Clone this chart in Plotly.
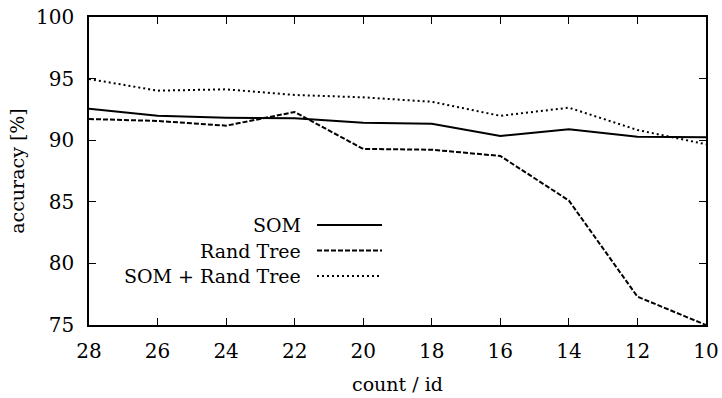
import plotly.graph_objects as go

x_vals = [28, 26, 24, 22, 20, 18, 16, 14, 12, 10]
som = [92.56, 91.99, 91.83, 91.78, 91.42, 91.34, 90.34, 90.89, 90.29, 90.24]
rand_tree = [91.72, 91.56, 91.18, 92.29, 89.29, 89.23, 88.72, 85.1, 77.3, 75.0]
som_rand = [94.97, 94.02, 94.13, 93.67, 93.48, 93.12, 91.98, 92.64, 90.83, 89.67]

series_names = ["SOM", "Rand Tree", "SOM + Rand Tree"]
series_dash = ["solid", "5px,2px", "2px,3px"]
series_data = [som, rand_tree, som_rand]

x_ticks = [28, 26, 24, 22, 20, 18, 16, 14, 12, 10]
y_ticks = [75, 80, 85, 90, 95, 100]

FONT = "DejaVu Serif"
FS = 19

fig = go.Figure()
for name, dash, ys in zip(series_names, series_dash, series_data):
    fig.add_trace(go.Scatter(x=x_vals, y=ys, mode="lines", name=name,
                             line=dict(color="black", width=2, dash=dash),
                             showlegend=False))

# manual legend (text right-aligned, line sample on the right)
L = 722 - 89 - 16
H = 398 - 17 - 73
rows_y = [225, 250.5, 276]
for name, dash, ry in zip(series_names, series_dash, rows_y):
    yp = 1 - (ry - 17) / H
    fig.add_annotation(x=(303 - 89) / L, y=yp, xref="paper", yref="paper",
                       text=name, showarrow=False, xanchor="right", yanchor="middle",
                       font=dict(family=FONT, size=FS, color="black"))
    fig.add_shape(type="line", xref="paper", yref="paper",
                  x0=(317 - 89) / L, x1=(382 - 89) / L, y0=yp, y1=yp,
                  line=dict(color="black", width=2, dash=dash))

axis_common = dict(showgrid=False, zeroline=False, showline=True, linecolor="black",
                   linewidth=1.5, mirror="ticks", ticks="inside", ticklen=7,
                   tickwidth=1.2, tickcolor="black", automargin=False,
                   tickfont=dict(family=FONT, size=FS + 1, color="black"))

fig.update_xaxes(range=[28, 10], tickvals=x_ticks, ticktext=[str(v) for v in x_ticks],
                 title=dict(text="count / id", font=dict(family=FONT, size=FS, color="black"), standoff=16),
                 ticklabelstandoff=7, **axis_common)
fig.update_yaxes(range=[75, 100], tickvals=y_ticks, ticktext=[str(v) for v in y_ticks],
                 title=dict(text="accuracy [%]", font=dict(family=FONT, size=FS, color="black"), standoff=6),
                 ticklabelstandoff=9, **axis_common)

fig.update_layout(width=722, height=398, margin=dict(l=89, r=16, t=17, b=73),
                  plot_bgcolor="white", paper_bgcolor="white",
                  font=dict(family=FONT, size=FS, color="black"))

fig.write_html("out.html")
